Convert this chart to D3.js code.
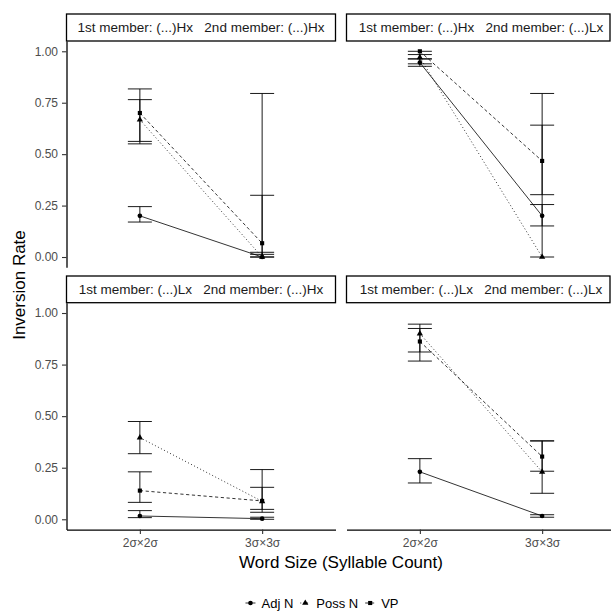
<!DOCTYPE html>
<html>
<head>
<meta charset="utf-8">
<script src="https://cdn.jsdelivr.net/npm/d3@7"></script>
<style>
  body { margin: 0; background: #fff; }
  svg { display: block; font-family: "Liberation Sans", Arial, Helvetica, sans-serif; }
</style>
</head>
<body>
<div id="chart"></div>
<script>
// facets: 1st member / 2nd member
const firstMember = ["Hx", "Hx", "Lx", "Lx"];
const secondMember = ["Hx", "Lx", "Hx", "Lx"];
const wordSizes = ["2σ×2σ", "3σ×3σ"];
const groups = ["Adj N", "Poss N", "VP"];

// rates per facet, [2σ×2σ, 3σ×3σ]
const adjRate = [[0.20, 0.00], [0.945, 0.20], [0.016, 0.003], [0.23, 0.016]];
const adjLow  = [[0.170, 0.00], [0.927, 0.151], [0.008, 0.00], [0.176, 0.010]];
const adjHigh = [[0.245, 0.023], [0.963, 0.255], [0.042, 0.010], [0.294, 0.022]];

const possRate = [[0.667, 0.00], [0.97, 0.00], [0.396, 0.087], [0.90, 0.23]];
const possLow  = [[0.550, 0.00], [0.939, 0.00], [0.318, 0.034], [0.811, 0.126]];
const possHigh = [[0.765, 0.795], [0.984, 0.795], [0.474, 0.241], [0.946, 0.38]];

const vpRate = [[0.70, 0.067], [1.00, 0.467], [0.139, 0.089], [0.862, 0.304]];
const vpLow  = [[0.562, 0.013], [0.963, 0.303], [0.082, 0.048], [0.767, 0.233]];
const vpHigh = [[0.817, 0.30], [1.00, 0.641], [0.23, 0.155], [0.925, 0.38]];

const yTicks = [0, 0.25, 0.5, 0.75, 1];

const W = 611, H = 613;
const svg = d3.select('#chart').append('svg').attr('width', W).attr('height', H);

const cols = [[66.5, 335.5], [346.5, 615.5]];
const rows = [{ strip: 14, top: 41, bottom: 267.3 }, { strip: 276, top: 302.7, bottom: 529.6 }];

const rates = [adjRate, possRate, vpRate];
const lows = [adjLow, possLow, vpLow];
const highs = [adjHigh, possHigh, vpHigh];
const dash = ['none', '1,2.4', '3.2,2.6'];
const shapes = [d3.symbolCircle, d3.symbolTriangle, d3.symbolSquare];
const shapeSize = [17, 17, 17];

firstMember.forEach((f, p) => {
  const col = cols[p % 2], row = rows[Math.floor(p / 2)];
  const x = d3.scalePoint().domain(wordSizes).range(col).padding(0.6);
  const y = d3.scaleLinear().domain([-0.05, 1.05]).range([row.bottom, row.top]);
  const g = svg.append('g');

  // strip
  g.append('rect')
    .attr('x', col[0]).attr('y', row.strip)
    .attr('width', Math.min(col[1], 610) - col[0]).attr('height', row.top - row.strip)
    .attr('fill', '#fff').attr('stroke', '#000').attr('stroke-width', 1.3);
  g.append('text')
    .attr('x', (col[0] + col[1]) / 2).attr('y', (row.strip + row.top) / 2)
    .attr('dy', '0.35em').attr('text-anchor', 'middle')
    .attr('font-size', 13.5).attr('fill', '#1a1a1a')
    .style('white-space', 'pre')
    .text(`1st member: (...)${f}   2nd member: (...)${secondMember[p]}`);

  // axes on outer panels
  if (p % 2 === 0) {
    const ay = g.append('g').attr('transform', `translate(${col[0]},0)`)
      .call(d3.axisLeft(y).tickValues(yTicks).tickFormat(d3.format('.2f')).tickSize(4.5).tickSizeOuter(0).tickPadding(4));
    ay.select('.domain').attr('stroke-width', 1.3);
    ay.selectAll('.tick line').attr('stroke', '#333').attr('stroke-width', 1.1);
    ay.selectAll('text').attr('font-size', 12).attr('fill', '#4d4d4d').attr('font-family', null);
  }
  if (p >= 2) {
    const ax = g.append('g').attr('transform', `translate(0,${row.bottom})`)
      .call(d3.axisBottom(x).tickSize(4.5).tickSizeOuter(0).tickPadding(4));
    ax.select('.domain').attr('stroke-width', 1.3);
    ax.selectAll('.tick line').attr('stroke', '#333').attr('stroke-width', 1.1);
    ax.selectAll('text').attr('font-size', 12).attr('fill', '#4d4d4d').attr('font-family', null);
  }

  groups.forEach((grp, s) => {
    const pts = wordSizes.map((w, i) => ({ w, v: rates[s][p][i], lo: lows[s][p][i], hi: highs[s][p][i] }));
    // error bars
    const eb = g.append('g').attr('stroke', '#000').attr('stroke-width', 0.9).attr('fill', 'none');
    pts.forEach(d => {
      const cx = x(d.w), hw = 12;
      eb.append('line').attr('x1', cx).attr('x2', cx).attr('y1', y(d.lo)).attr('y2', y(d.hi));
      eb.append('line').attr('x1', cx - hw).attr('x2', cx + hw).attr('y1', y(d.lo)).attr('y2', y(d.lo));
      eb.append('line').attr('x1', cx - hw).attr('x2', cx + hw).attr('y1', y(d.hi)).attr('y2', y(d.hi));
    });
    // connecting line
    g.append('path').datum(pts)
      .attr('d', d3.line().x(d => x(d.w)).y(d => y(d.v)))
      .attr('fill', 'none').attr('stroke', '#000').attr('stroke-width', 0.8)
      .attr('stroke-dasharray', dash[s]);
    // points
    g.selectAll(null).data(pts).join('path')
      .attr('transform', d => `translate(${x(d.w)},${y(d.v)})`)
      .attr('d', d3.symbol().type(shapes[s]).size(shapeSize[s]))
      .attr('fill', '#000');
  });
});

// axis titles
svg.append('text')
  .attr('x', 341).attr('y', 568).attr('text-anchor', 'middle')
  .attr('font-size', 17).attr('fill', '#000')
  .text('Word Size (Syllable Count)');
svg.append('text')
  .attr('transform', 'translate(25,285) rotate(-90)').attr('text-anchor', 'middle')
  .attr('font-size', 17).attr('fill', '#000')
  .text('Inversion Rate');

// legend
const legend = svg.append('g');
let lx = 0;
groups.forEach((grp, s) => {
  const it = legend.append('g').attr('transform', `translate(${lx},0)`);
  it.append('line').attr('x1', 0).attr('x2', 10).attr('y1', 0).attr('y2', 0)
    .attr('stroke', '#000').attr('stroke-width', 0.8).attr('stroke-dasharray', dash[s]);
  it.append('path').attr('transform', 'translate(5,0)')
    .attr('d', d3.symbol().type(shapes[s]).size(shapeSize[s])).attr('fill', '#000');
  const t = it.append('text').attr('x', 16).attr('dy', '0.35em')
    .attr('font-size', 13).attr('fill', '#000').text(grp);
  lx += 16 + t.node().getComputedTextLength() + 7;
});
legend.attr('transform', `translate(${322 - (lx - 7) / 2},603)`);
</script>
</body>
</html>
